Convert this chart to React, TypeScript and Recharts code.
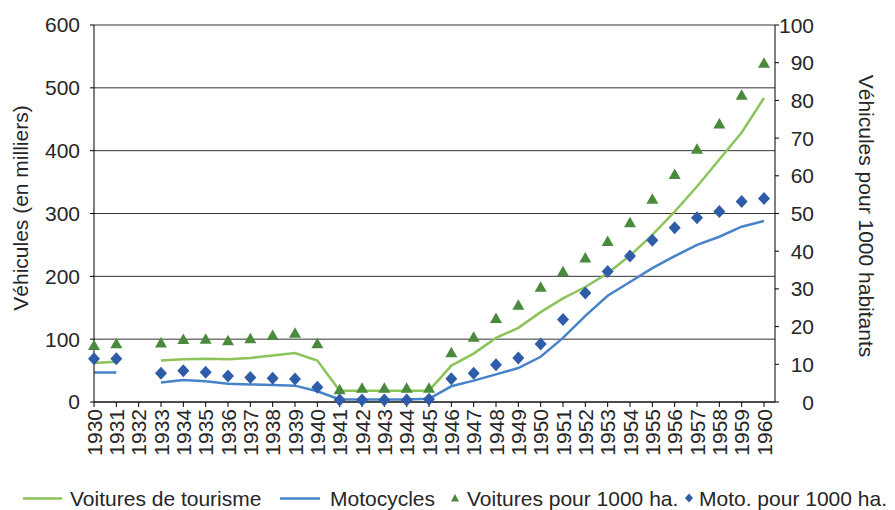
import React from 'react';
import { ComposedChart, Line, XAxis, YAxis, CartesianGrid, Legend } from 'recharts';

const years = [
  '1930', '1931', '1932', '1933', '1934', '1935', '1936', '1937', '1938', '1939', '1940',
  '1941', '1942', '1943', '1944', '1945', '1946', '1947', '1948', '1949', '1950',
  '1951', '1952', '1953', '1954', '1955', '1956', '1957', '1958', '1959', '1960',
];

// Véhicules (en milliers) — left axis
const voituresTourisme = [
  62, 64, null, 66, 68, 69, 68, 70, 74, 78, 66,
  18, 18, 18, 18, 18, 58, 77, 102, 118, 143,
  165, 183, 205, 233, 266, 303, 343, 386, 429, 484,
];
const motocycles = [
  47, 47, null, 31, 35, 33, 29, 28, 27, 26, 17,
  4, 4, 4, 4, 5, 25, 34, 44, 54, 72,
  102, 137, 169, 191, 213, 232, 250, 263, 279, 288,
];

// Véhicules pour 1000 habitants — right axis
const voituresPour1000 = [
  15.1, 15.6, null, 15.8, 16.7, 16.8, 16.4, 16.9, 17.8, 18.4, 15.6,
  3.4, 3.8, 3.8, 3.8, 3.8, 13.2, 17.3, 22.3, 25.8, 30.6,
  34.7, 38.3, 42.7, 47.7, 53.9, 60.5, 67.2, 73.9, 81.5, 90,
];
const motoPour1000 = [
  11.5, 11.5, null, 7.6, 8.3, 7.9, 6.9, 6.5, 6.3, 6.1, 3.9,
  0.5, 0.5, 0.5, 0.5, 0.7, 6.2, 7.6, 9.9, 11.7, 15.4,
  21.9, 28.9, 34.6, 38.7, 42.9, 46.2, 48.9, 50.5, 53.2, 54,
];

const leftTicks = [0, 100, 200, 300, 400, 500, 600];
const rightTicks = [0, 10, 20, 30, 40, 50, 60, 70, 80, 90, 100];

const leftTitle = 'Véhicules (en milliers)';
const rightTitle = 'Véhicules pour 1000 habitants';
const legendLabels = [
  'Voitures de tourisme',
  'Motocycles',
  'Voitures pour 1000 ha.',
  'Moto. pour 1000 ha.',
];

const data = years.map((y, i) => ({
  year: y,
  vt: voituresTourisme[i],
  mc: motocycles[i],
  vp: voituresPour1000[i],
  mp: motoPour1000[i],
}));

const FONT = '"Liberation Sans", Arial, sans-serif';
const TEXT = '#262626';
const GREEN_LINE = '#8cc35a';
const BLUE_LINE = '#4683c8';
const GREEN_MARK = '#4a8a3c';
const BLUE_MARK = '#2e5ca8';

const TriangleDot = (props: any) => {
  const { cx, cy, index, payload } = props;
  if (payload == null || payload.vp == null || cx == null || cy == null || isNaN(cy)) {
    return <g key={`tri-${index}`} />;
  }
  return (
    <path
      key={`tri-${index}`}
      d={`M${cx},${cy - 5.5}L${cx + 6},${cy + 5}L${cx - 6},${cy + 5}Z`}
      fill={GREEN_MARK}
    />
  );
};

const DiamondDot = (props: any) => {
  const { cx, cy, index, payload } = props;
  if (payload == null || payload.mp == null || cx == null || cy == null || isNaN(cy)) {
    return <g key={`dia-${index}`} />;
  }
  return (
    <path
      key={`dia-${index}`}
      d={`M${cx},${cy - 6.5}L${cx + 6},${cy}L${cx},${cy + 6.5}L${cx - 6},${cy}Z`}
      fill={BLUE_MARK}
    />
  );
};

const XTick = (props: any) => {
  const { x, y, payload } = props;
  return (
    <g transform={`translate(${x},${y})`}>
      <text
        transform="rotate(-90)"
        textAnchor="end"
        dy="0.36em"
        fill={TEXT}
        fontSize={21}
        fontFamily={FONT}
      >
        {payload.value}
      </text>
    </g>
  );
};

const RightTick = (props: any) => {
  const { x, y, payload } = props;
  return (
    <text
      x={x + 33}
      y={y}
      dy="0.36em"
      textAnchor="end"
      fill={TEXT}
      fontSize={21}
      fontFamily={FONT}
    >
      {payload.value}
    </text>
  );
};

const LeftTitle = () => (
  <text
    x={28}
    y={208}
    transform="rotate(-90, 28, 208)"
    textAnchor="middle"
    fill={TEXT}
    fontSize={21}
    fontFamily={FONT}
  >
    {leftTitle}
  </text>
);

const RightTitle = () => (
  <text
    x={859}
    y={216}
    transform="rotate(90, 859, 216)"
    textAnchor="middle"
    fill={TEXT}
    fontSize={21}
    fontFamily={FONT}
  >
    {rightTitle}
  </text>
);

const renderLegend = () => (
  <svg width={895} height={22} style={{ display: 'block', overflow: 'visible' }}>
    <line x1={23} x2={62} y1={10.5} y2={10.5} stroke={GREEN_LINE} strokeWidth={2.5} />
    <text x={70} y={17.5} fill={TEXT} fontSize={21} fontFamily={FONT}>{legendLabels[0]}</text>
    <line x1={280} x2={320} y1={10.5} y2={10.5} stroke={BLUE_LINE} strokeWidth={2.5} />
    <text x={330} y={17.5} fill={TEXT} fontSize={21} fontFamily={FONT}>{legendLabels[1]}</text>
    <path d="M455,6L459,13.5L451,13.5Z" fill={GREEN_MARK} />
    <text x={467} y={17.5} fill={TEXT} fontSize={21} fontFamily={FONT}>{legendLabels[2]}</text>
    <path d="M689,5.5L693,10L689,14.5L685,10Z" fill={BLUE_MARK} />
    <text x={699} y={17.5} fill={TEXT} fontSize={21} fontFamily={FONT}>{legendLabels[3]}</text>
  </svg>
);

export default function App() {
  return (
    <div style={{ position: 'absolute', left: 0, top: 0, width: 895, height: 510 }}>
      <ComposedChart
        width={895}
        height={510}
        data={data}
        margin={{ top: 25, right: 0, bottom: 0, left: 0 }}
      >
        <CartesianGrid yAxisId="left" vertical={false} stroke="#333" strokeWidth={1} />
        <XAxis
          dataKey="year"
          scale="point"
          interval={0}
          padding={{ left: 0, right: 11 }}
          height={86}
          tickSize={5}
          tickMargin={2}
          tick={<XTick />}
          axisLine={{ stroke: '#000' }}
          tickLine={{ stroke: '#000' }}
        />
        <YAxis
          yAxisId="left"
          width={94}
          domain={[0, 600]}
          ticks={leftTicks}
          tickSize={4}
          tickMargin={10}
          tick={{ fill: TEXT, fontSize: 21, fontFamily: FONT }}
          axisLine={{ stroke: '#000' }}
          tickLine={{ stroke: '#000' }}
          label={{ content: LeftTitle } as any}
        />
        <YAxis
          yAxisId="right"
          orientation="right"
          width={120}
          domain={[0, 100]}
          ticks={rightTicks}
          tickSize={4}
          tickMargin={2}
          tick={<RightTick />}
          axisLine={{ stroke: '#000' }}
          tickLine={{ stroke: '#000' }}
          label={{ content: RightTitle } as any}
        />
        <Legend
          verticalAlign="bottom"
          content={renderLegend}
          wrapperStyle={{ left: 0, width: 895, height: 22 }}
        />
        <Line
          yAxisId="left"
          dataKey="vt"
          stroke={GREEN_LINE}
          strokeWidth={2.5}
          dot={false}
          activeDot={false}
          isAnimationActive={false}
        />
        <Line
          yAxisId="left"
          dataKey="mc"
          stroke={BLUE_LINE}
          strokeWidth={2.5}
          dot={false}
          activeDot={false}
          isAnimationActive={false}
        />
        <Line
          yAxisId="right"
          dataKey="vp"
          stroke="none"
          dot={TriangleDot}
          activeDot={false}
          isAnimationActive={false}
        />
        <Line
          yAxisId="right"
          dataKey="mp"
          stroke="none"
          dot={DiamondDot}
          activeDot={false}
          isAnimationActive={false}
        />
      </ComposedChart>
    </div>
  );
}
